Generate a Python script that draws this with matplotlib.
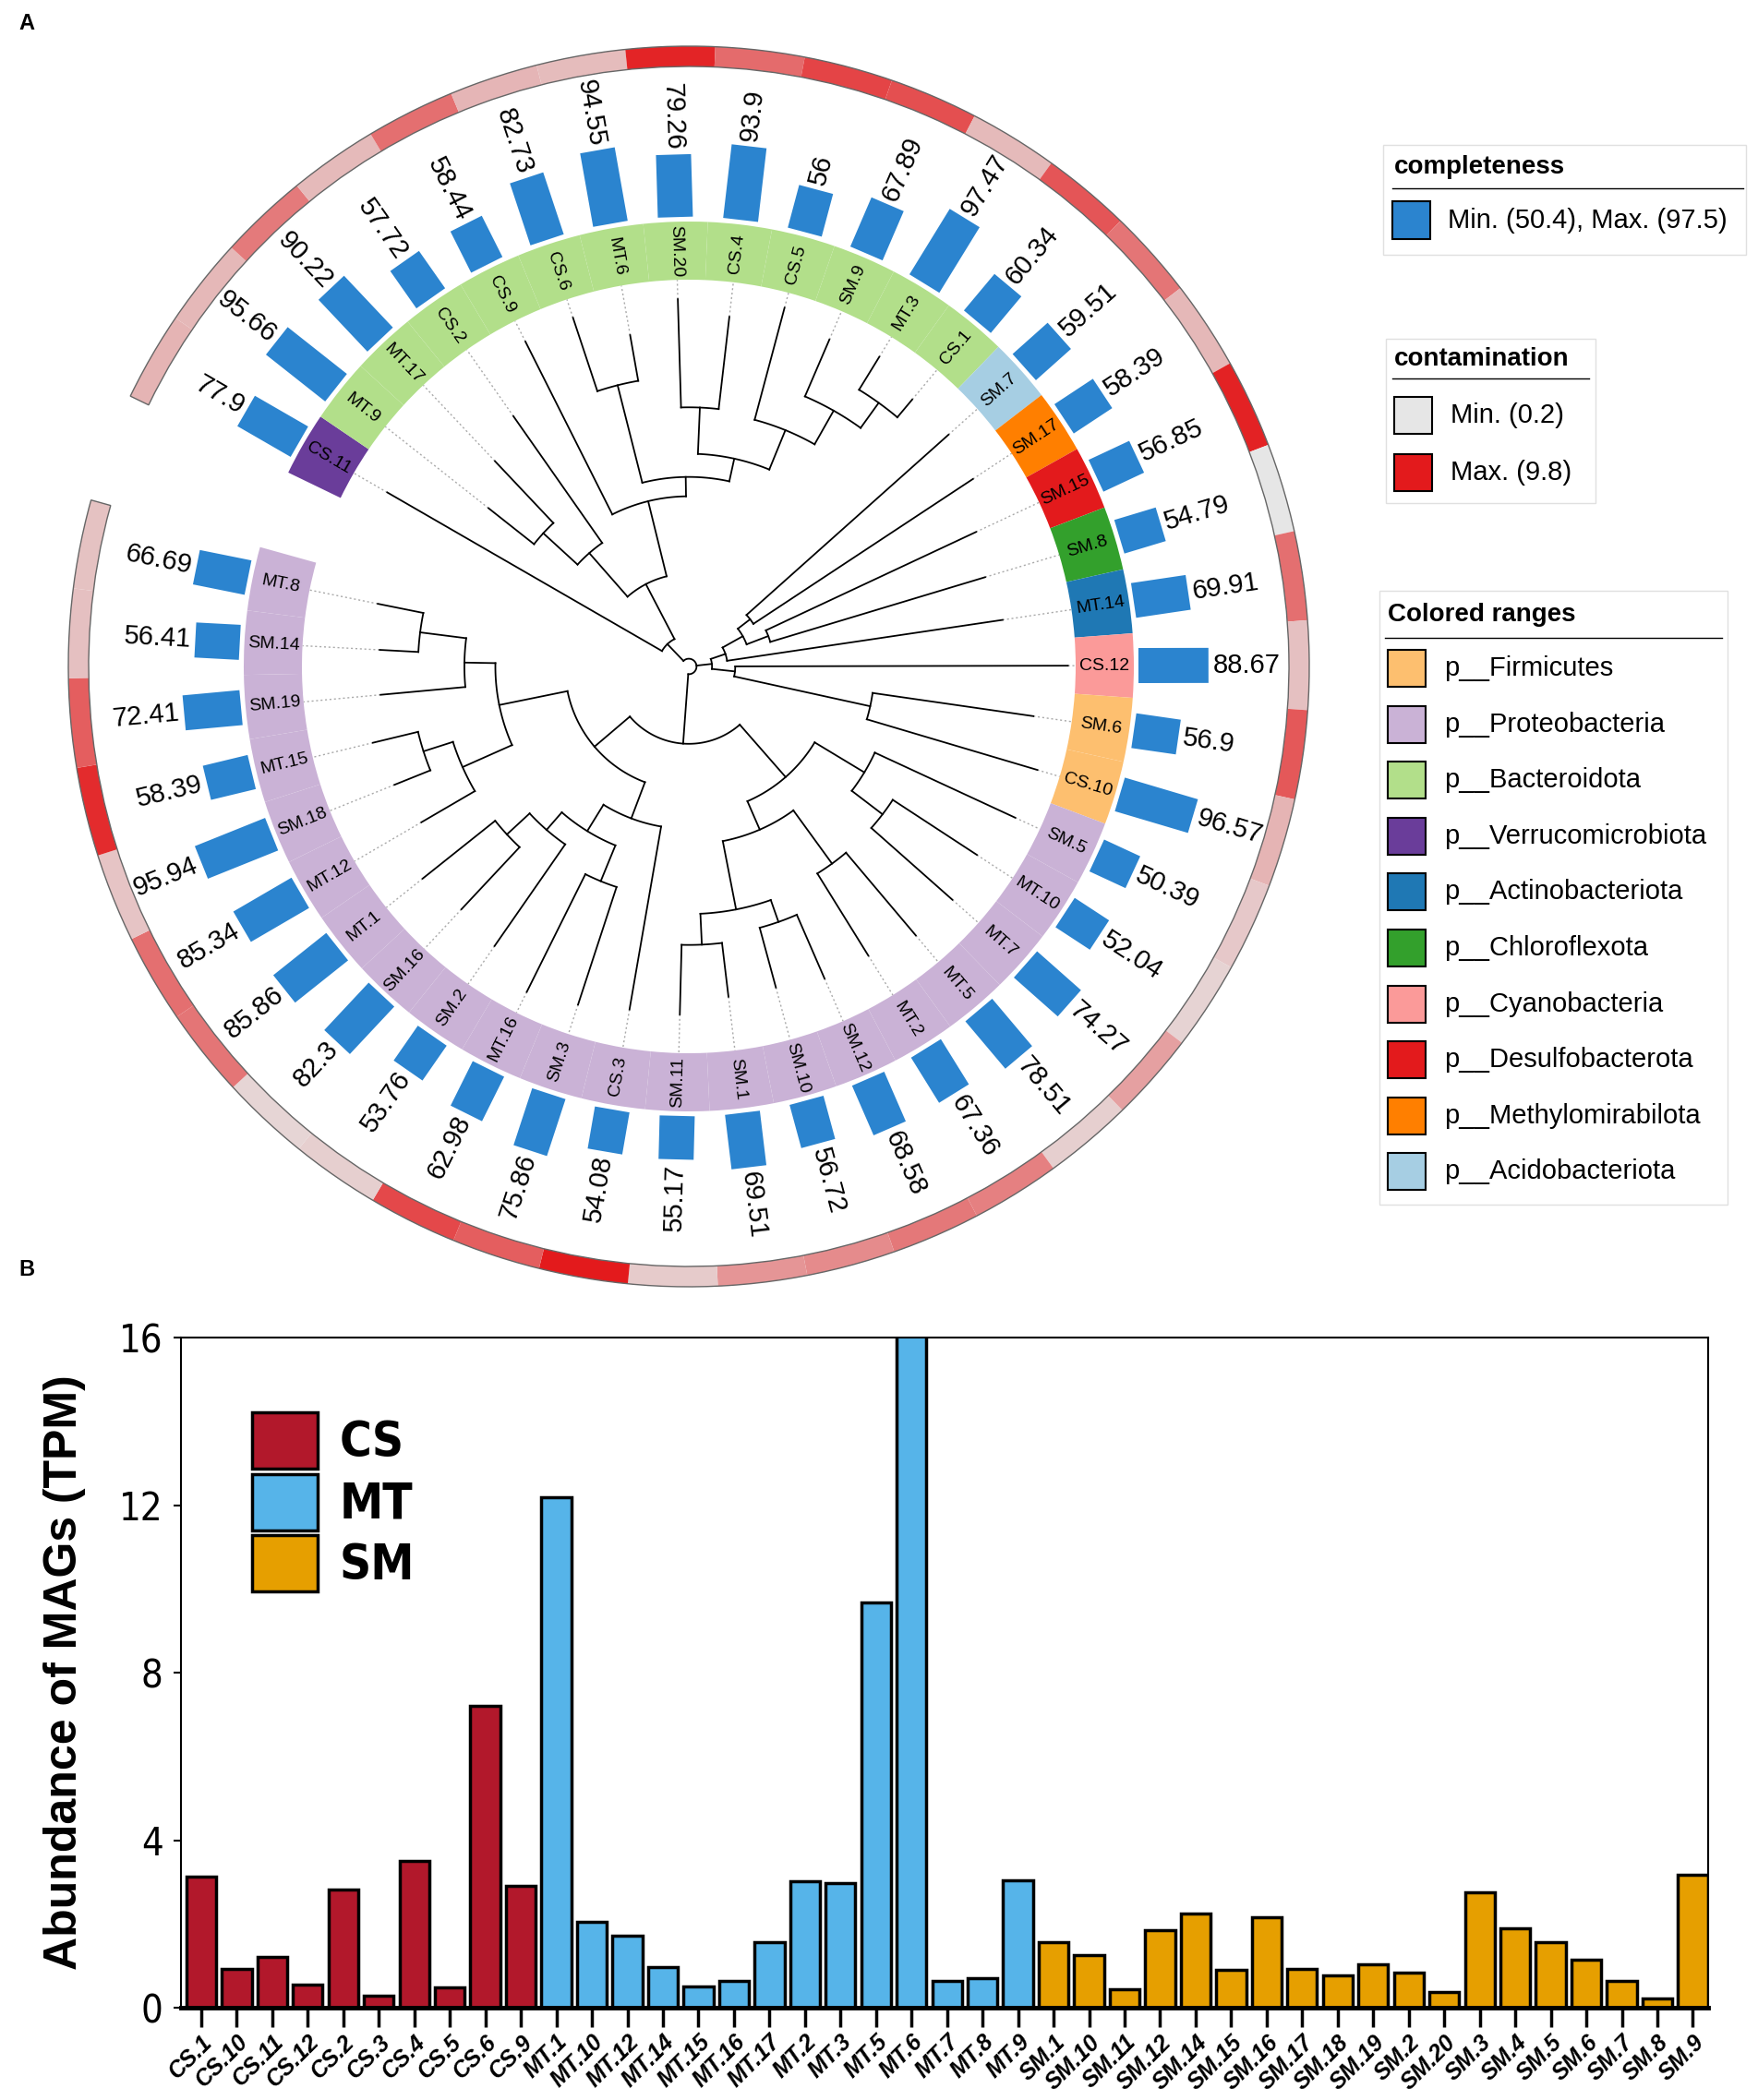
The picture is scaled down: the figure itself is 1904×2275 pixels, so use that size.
import re
import numpy as np
import matplotlib
matplotlib.use("Agg")
import matplotlib.pyplot as plt
from matplotlib.patches import Wedge, Polygon, Rectangle
from matplotlib.colors import LinearSegmentedColormap

plt.rcParams['font.family'] = ['Liberation Sans', 'DejaVu Sans']

# ---------------- panel A data ----------------
leaves = ["CS.11", "MT.9", "MT.17", "CS.2", "CS.9", "CS.6", "MT.6", "SM.20", "CS.4", "CS.5",
          "SM.9", "MT.3", "CS.1", "SM.7", "SM.17", "SM.15", "SM.8", "MT.14", "CS.12", "SM.6",
          "CS.10", "SM.5", "MT.10", "MT.7", "MT.5", "MT.2", "SM.12", "SM.10", "SM.1", "SM.11",
          "CS.3", "SM.3", "MT.16", "SM.2", "SM.16", "MT.1", "MT.12", "SM.18", "MT.15", "SM.19",
          "SM.14", "MT.8"]
completeness = [77.9, 95.66, 90.22, 57.72, 58.44, 82.73, 94.55, 79.26, 93.9, 56,
                67.89, 97.47, 60.34, 59.51, 58.39, 56.85, 54.79, 69.91, 88.67, 56.9,
                96.57, 50.39, 52.04, 74.27, 78.51, 67.36, 68.58, 56.72, 69.51, 55.17,
                54.08, 75.86, 62.98, 53.76, 82.3, 85.86, 85.34, 95.94, 58.39, 72.41,
                56.41, 66.69]
contamination = [2.6, 2.4, 5.3, 2.3, 5.8, 2.5, 2.2, 9.3, 6.0, 7.8,
                 7.3, 2.3, 7.0, 5.5, 2.4, 9.4, 0.2, 5.8, 2.0, 6.9,
                 2.6, 1.6, 1.1, 3.5, 1.3, 5.0, 5.4, 4.5, 4.0, 1.5,
                 9.8, 6.6, 7.6, 1.3, 1.0, 5.5, 5.8, 1.8, 9.0, 6.6,
                 2.0, 1.9]
leaf_phylum = ["Verrucomicrobiota"] + ["Bacteroidota"] * 12 + \
              ["Acidobacteriota", "Methylomirabilota", "Desulfobacterota", "Chloroflexota",
               "Actinobacteriota", "Cyanobacteria", "Firmicutes", "Firmicutes"] + \
              ["Proteobacteria"] * 21
phyla = ["Firmicutes", "Proteobacteria", "Bacteroidota", "Verrucomicrobiota", "Actinobacteriota",
         "Chloroflexota", "Cyanobacteria", "Desulfobacterota", "Methylomirabilota", "Acidobacteriota"]
phylum_colors = ["#fdbf6f", "#cab2d6", "#b2df8a", "#6a3d9a", "#1f78b4",
                 "#33a02c", "#fb9a99", "#e31a1c", "#ff7f00", "#a6cee3"]

bact = ("(((MT.9:15,MT.17:22):12,CS.2:40):15,(CS.9:50,((CS.6:20,MT.6:12):26,"
        "((SM.20:28,CS.4:24):12,(CS.5:30,(SM.9:16,(MT.3:10,CS.1:6):8):10):11):6):5):20):16")
right = ("((((SM.7:70,SM.17:68):4,(SM.15:60,SM.8:58):6):6,MT.14:72):4,"
         "(CS.12:86,(SM.6:42,CS.10:46):36):6):4")
proteo_a = ("((SM.5:40,(MT.10:26,MT.7:28):10):15,((MT.5:28,MT.2:25):17,"
            "((SM.12:18,SM.10:16):6,(SM.1:14,SM.11:18):8):18):8):18")
proteo_b = ("((CS.3:48,((SM.3:32,MT.16:34):10,(SM.2:32,(SM.16:22,MT.1:24):8):6):8):10,"
            "((MT.12:16,(SM.18:10,MT.15:12):8):14,(SM.19:22,(SM.14:10,MT.8:12):12):8):18):12")
tree_newick = "((CS.11:82," + bact + "):6," + right + ",(" + proteo_a + "," + proteo_b + "):18):2"

# ---------------- panel B data ----------------
mags = ["CS.1", "CS.10", "CS.11", "CS.12", "CS.2", "CS.3", "CS.4", "CS.5", "CS.6", "CS.9",
        "MT.1", "MT.10", "MT.12", "MT.14", "MT.15", "MT.16", "MT.17", "MT.2", "MT.3", "MT.5",
        "MT.6", "MT.7", "MT.8", "MT.9",
        "SM.1", "SM.10", "SM.11", "SM.12", "SM.14", "SM.15", "SM.16", "SM.17", "SM.18", "SM.19",
        "SM.2", "SM.20", "SM.3", "SM.4", "SM.5", "SM.6", "SM.7", "SM.8", "SM.9"]
tpm = [3.14, 0.93, 1.22, 0.55, 2.82, 0.29, 3.5, 0.48, 7.21, 2.92,
       12.18, 2.05, 1.73, 0.96, 0.51, 0.64, 1.57, 3.01, 2.98, 9.68,
       16.3, 0.64, 0.70, 3.04,
       1.57, 1.25, 0.45, 1.86, 2.24, 0.90, 2.15, 0.93, 0.77, 1.03,
       0.83, 0.38, 2.76, 1.89, 1.57, 1.15, 0.64, 0.22, 3.17]
sites = ["CS", "MT", "SM"]
site_colors = ["#b2182b", "#56b4e9", "#e69f00"]


def parse_newick(s):
    pos = 0

    def node():
        nonlocal pos
        children = []
        if s[pos] == "(":
            pos += 1
            children.append(node())
            while s[pos] == ",":
                pos += 1
                children.append(node())
            pos += 1
        name = re.match(r"[^:,();]*", s[pos:]).group(0)
        pos += len(name)
        length = 0.0
        if pos < len(s) and s[pos] == ":":
            m = re.match(r":([0-9.]+)", s[pos:])
            length = float(m.group(1))
            pos += len(m.group(0))
        return {"name": name, "children": children, "len": length}

    return node()


fig = plt.figure(figsize=(19.04, 22.75), dpi=100)

# ---------------- panel A ----------------
ax = fig.add_axes([0, 1 - 1400 / 2275, 1500 / 1904, 1400 / 2275])
ax.set_xlim(-746, 754)
ax.set_ylim(-678, 722)
ax.set_aspect("equal")
ax.axis("off")

R_IN, R_OUT = 419, 482
BAR0, BAR_SCALE, BAR_W = 487, 0.855, 38
C_IN, C_OUT = 650, 672
UNIT = R_IN / 100.0
step = 341.4 / (len(leaves) - 1)
half = step / 2
leaf_angle = {nm: 150 - i * step for i, nm in enumerate(leaves)}


def rot_for(th):
    t = (th + 180) % 360 - 180
    if -90 <= t <= 90:
        return t, "left"
    return (t - 180 if t > 0 else t + 180), "right"


def pol(r, th):
    a = np.deg2rad(th)
    return r * np.cos(a), r * np.sin(a)


tree = parse_newick(tree_newick)


def layout(nd, r0):
    nd["r"] = r0 + nd["len"]
    if not nd["children"]:
        nd["theta"] = leaf_angle[nd["name"]]
    else:
        for c in nd["children"]:
            layout(c, nd["r"])
        nd["theta"] = 0.5 * (nd["children"][0]["theta"] + nd["children"][-1]["theta"])


def draw(nd):
    r = nd["r"] * UNIT
    if not nd["children"]:
        x0, y0 = pol(r, nd["theta"])
        x1, y1 = pol(R_IN, nd["theta"])
        ax.plot([x0, x1], [y0, y1], color="#aaaaaa", lw=1.0, ls=(0, (1.5, 2)), zorder=1)
        return
    for c in nd["children"]:
        draw(c)
        x0, y0 = pol(r, c["theta"])
        x1, y1 = pol(c["r"] * UNIT, c["theta"])
        ax.plot([x0, x1], [y0, y1], color="black", lw=1.3, zorder=2)
    ths = np.linspace(nd["children"][0]["theta"], nd["children"][-1]["theta"], 80)
    xs, ys = pol(r, ths)
    ax.plot(xs, ys, color="black", lw=1.3, zorder=2)


layout(tree, 0)
draw(tree)

pcol = dict(zip(phyla, phylum_colors))
cmap = LinearSegmentedColormap.from_list("cont", ["#e6e6e6", "#e31a1c"])
cmin, cmax = min(contamination), max(contamination)

for nm, comp, cont, ph in zip(leaves, completeness, contamination, leaf_phylum):
    th = leaf_angle[nm]
    ax.add_patch(Wedge((0, 0), R_OUT, th - half, th + half, width=R_OUT - R_IN,
                       facecolor=pcol[ph], edgecolor="none", zorder=3))
    rot, _ = rot_for(th)
    x, y = pol((R_IN + R_OUT) / 2, th)
    ax.text(x, y, nm, rotation=rot, ha="center", va="center", fontsize=14,
            rotation_mode="anchor", zorder=4)
    # completeness bar
    L = comp * BAR_SCALE
    u = np.array(pol(1, th))
    n = np.array([-u[1], u[0]])
    pts = [BAR0 * u + n * BAR_W / 2, (BAR0 + L) * u + n * BAR_W / 2,
           (BAR0 + L) * u - n * BAR_W / 2, BAR0 * u - n * BAR_W / 2]
    ax.add_patch(Polygon(pts, closed=True, facecolor="#2b84cf", edgecolor="none", zorder=3))
    rot, ha = rot_for(th)
    x, y = pol(BAR0 + L + 5, th)
    ax.text(x, y, f"{comp:g}", rotation=rot, ha=ha, va="center", fontsize=21,
            rotation_mode="anchor", zorder=4)
    # contamination ring
    ax.add_patch(Wedge((0, 0), C_OUT, th - half, th + half, width=C_OUT - C_IN,
                       facecolor=cmap((cont - cmin) / (cmax - cmin)), edgecolor="none", zorder=3))

ax.add_patch(Wedge((0, 0), C_OUT, leaf_angle[leaves[-1]] - half, leaf_angle[leaves[0]] + half,
                   width=C_OUT - C_IN, facecolor="none", edgecolor="#666666", lw=1.0, zorder=4))

# ---------------- overlay for legends / panel letters ----------------
lg = fig.add_axes([0, 0, 1, 1], zorder=-1)
lg.set_xlim(0, 1904)
lg.set_ylim(2275, 0)
lg.axis("off")

lg.text(20, 26, "A", fontsize=17, fontweight="bold", va="center", ha="left")
lg.text(20, 1375, "B", fontsize=17, fontweight="bold", va="center", ha="left")

# completeness legend
lg.add_patch(Rectangle((1498, 157), 393, 119, facecolor="white", edgecolor="#e0e0e0", lw=1))
lg.text(1510, 181, "completeness", fontsize=20, fontweight="bold", va="center")
lg.plot([1508, 1888], [204, 204], color="black", lw=1)
lg.add_patch(Rectangle((1508, 218), 41, 41, facecolor="#2b84cf", edgecolor="black", lw=1.5))
lg.text(1568, 239, "Min. (%.1f), Max. (%.1f)" % (min(completeness), max(completeness)),
        fontsize=21, va="center")

# contamination legend
lg.add_patch(Rectangle((1501, 367), 227, 178, facecolor="white", edgecolor="#e0e0e0", lw=1))
lg.text(1510, 389, "contamination", fontsize=20, fontweight="bold", va="center")
lg.plot([1508, 1721], [410, 410], color="black", lw=1)
lg.add_patch(Rectangle((1510, 430), 41, 40, facecolor=cmap(0.0), edgecolor="black", lw=1.5))
lg.add_patch(Rectangle((1510, 492), 41, 40, facecolor=cmap(1.0), edgecolor="black", lw=1.5))
lg.text(1571, 450, "Min. (%.1f)" % cmin, fontsize=21, va="center")
lg.text(1571, 512, "Max. (%.1f)" % cmax, fontsize=21, va="center")

# colored ranges legend
lg.add_patch(Rectangle((1494, 640), 377, 665, facecolor="white", edgecolor="#e0e0e0", lw=1))
lg.text(1503, 666, "Colored ranges", fontsize=20, fontweight="bold", va="center")
lg.plot([1500, 1865], [691, 691], color="black", lw=1)
for k, (ph, colr) in enumerate(zip(phyla, phylum_colors)):
    yc = 724 + 60.6 * k
    lg.add_patch(Rectangle((1503, yc - 20), 41, 40, facecolor=colr, edgecolor="black", lw=1.5))
    lg.text(1564, yc, "p__" + ph, fontsize=21, va="center")

# ---------------- panel B ----------------
axb = fig.add_axes([196 / 1904, 1 - 2175 / 2275, 1654 / 1904, 726 / 2275])
x = np.arange(len(mags))
for site, colr in zip(sites, site_colors):
    idx = [i for i, m in enumerate(mags) if m.startswith(site)]
    axb.bar(x[idx], [tpm[i] for i in idx], width=0.84, color=colr, edgecolor="black",
            linewidth=2.5, label=site, zorder=2)

axb.set_xlim(-0.57, len(mags) - 0.57)
axb.set_ylim(0, 16)
axb.set_yticks([0, 4, 8, 12, 16])
axb.set_xticks(x)
axb.set_xticklabels(mags, rotation=45, ha="right", va="top", rotation_mode="anchor",
                    fontsize=18, fontweight="bold", fontstyle="italic")
for t in axb.get_yticklabels():
    t.set_family(["DejaVu Sans"])
    t.set_fontstretch("condensed")
    t.set_fontweight("light")
    t.set_fontsize(30)
axb.tick_params(axis="x", length=15, width=2.5, pad=3)
axb.tick_params(axis="y", length=6, width=1.5, pad=8)
for side in ["left", "top", "right"]:
    axb.spines[side].set_linewidth(1.5)
axb.spines["bottom"].set_linewidth(3.5)

axb.set_ylabel("Abundance of MAGs (TPM)", fontsize=36, fontweight="bold")
axb.yaxis.set_label_coords(-0.062, 0.5)

leg = axb.legend(loc="upper left", bbox_to_anchor=(0.0466, 0.888), frameon=False,
                 handlelength=1.35, handleheight=1.4, labelspacing=0.1, handletextpad=0.45,
                 borderpad=0, borderaxespad=0,
                 prop={"family": ["DejaVu Sans"], "stretch": "condensed", "weight": "bold",
                       "size": 38})

fig.savefig("out.png", dpi=100)
